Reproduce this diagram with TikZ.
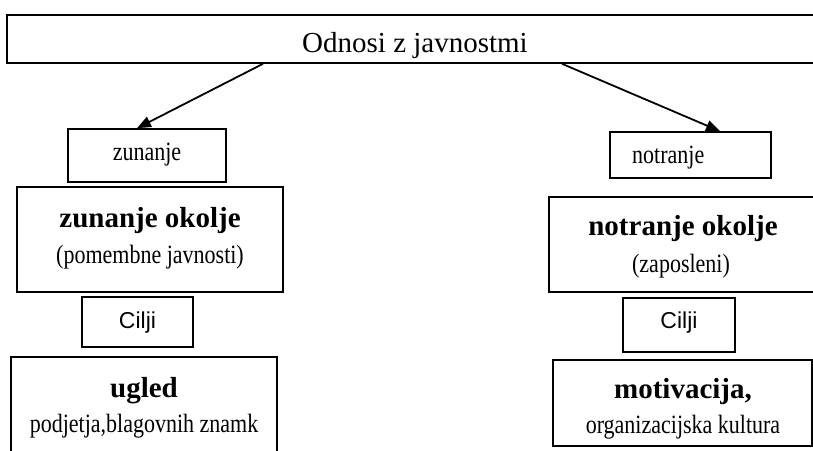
\documentclass[tikz,border=0pt]{standalone}
\usepackage{fontspec}
\usepackage{graphicx}
\setmainfont{Liberation Serif}
\newfontfamily\cilfont{Liberation Sans}
\usetikzlibrary{arrows.meta}
\newcommand{\tallt}[1]{\scalebox{1}[1.2]{#1}}
\begin{document}
\begin{tikzpicture}[x=1pt,y=-1pt,
  box/.style={draw, line width=1.6pt, inner sep=0pt, rectangle},
  arr/.style={line width=1.8pt, -{Triangle[length=14pt,width=11pt]}},
  ttl/.style={anchor=base, inner sep=0pt, font=\fontsize{29}{29}\selectfont},
  bld/.style={anchor=base, inner sep=0pt, font=\fontsize{29}{29}\selectfont\bfseries},
  nrm/.style={anchor=base, inner sep=0pt, font=\fontsize{22}{22}\selectfont},
  cil/.style={anchor=base, inner sep=0pt, font=\fontsize{23}{23}\selectfont\cilfont}]
\useasboundingbox (0,0) rectangle (813,450);
\clip (0,0) rectangle (813,450);
% top
\node[box, minimum width=813pt, minimum height=48pt] (top) at (413.5,39) {};
\node[ttl] (toptxt) at (415,52) {Odnosi z javnostmi};
% left column
\node[box, minimum width=158pt, minimum height=53pt] (zun) at (147,155.5) {};
\node[nrm] (zuntxt) at (147,160) {\tallt{zunanje}};
\node[box, minimum width=266pt, minimum height=105pt] (zok) at (150,239.5) {};
\node[bld] (zoka) at (150,227) {zunanje okolje};
\node[nrm] (zokb) at (150,263) {\tallt{(pomembne javnosti)}};
\node[box, minimum width=111pt, minimum height=50pt] (cill) at (137.5,322) {};
\node[cil] (cilltxt) at (137.5,328) {Cilji};
\node[box, minimum width=266pt, minimum height=103pt] (ugl) at (144,408.5) {};
\node[bld] (ugla) at (144,397) {ugled};
\node[nrm] (uglb) at (144,432) {\tallt{podjetja,blagovnih znamk}};
% right column
\node[box, minimum width=161pt, minimum height=46pt] (not) at (690.5,155) {};
\node[nrm, anchor=base west] (nottxt) at (632,163) {\tallt{notranje}};
\node[box, minimum width=281pt, minimum height=95pt] (nok) at (689.5,244.5) {};
\node[bld] (noka) at (683,235) {notranje okolje};
\node[nrm] (nokb) at (681,272) {\tallt{(zaposleni)}};
\node[box, minimum width=112pt, minimum height=54pt] (cilr) at (679,325) {};
\node[cil] (cilrtxt) at (679,328) {Cilji};
\node[box, minimum width=259pt, minimum height=86pt] (mot) at (682.5,403) {};
\node[bld] (mota) at (683,398) {motivacija,};
\node[nrm] (motb) at (683,433) {\tallt{organizacijska kultura}};
% arrows
\draw[arr] ([xshift=-150.5pt]top.south) -- ([xshift=-10pt]zun.north);
\draw[arr] ([xshift=148.5pt]top.south) -- ([xshift=29.5pt]not.north);
\end{tikzpicture}
\end{document}
